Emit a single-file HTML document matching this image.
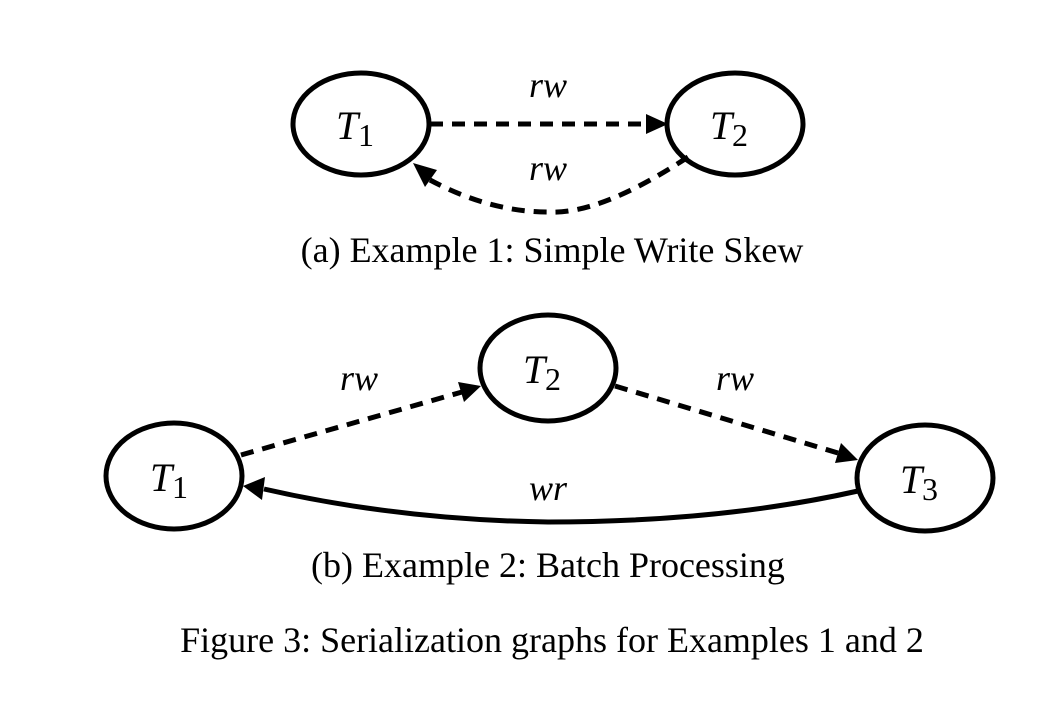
<!DOCTYPE html>
<html><head><style>
html,body{margin:0;padding:0;background:#fff;}
svg{display:block;}
text{font-family:"Liberation Serif",serif;fill:#000;}
</style></head><body>
<svg width="1048" height="708" viewBox="0 0 1048 708">
<g fill="none" stroke="#000" stroke-width="5">
<ellipse cx="361" cy="124" rx="68" ry="51"/>
<ellipse cx="735" cy="124" rx="68" ry="51"/>
<ellipse cx="548" cy="368" rx="68" ry="53"/>
<ellipse cx="174" cy="476" rx="68" ry="53"/>
<ellipse cx="925" cy="478" rx="68" ry="53"/>
</g>
<g fill="none" stroke="#000" stroke-width="5" stroke-dasharray="13,9">
<path d="M430,124 L646,124"/>
<path d="M688,157 Q600,215 548,212 Q490,212 430,180"/>
<path d="M241,455 L462,392"/>
<path d="M615,386 L838,453"/>
</g>
<path d="M858,491 Q720,522 548,522 Q400,520 264,489" fill="none" stroke="#000" stroke-width="5"/>
<g fill="#000">
<path d="M646,114 L668,124 L646,134 Z"/>
<path d="M413,163 L437,170 L425,187 Z"/>
<path d="M481,386 L464,402 L458,382 Z"/>
<path d="M858,460 L835,463 L841,443 Z"/>
<path d="M243,486 L265,477 L262,500 Z"/>
</g>
<g font-style="italic" font-size="40">
<text x="336" y="139">T</text><text x="358" y="146" font-style="normal" font-size="32">1</text>
<text x="710" y="139">T</text><text x="732" y="146" font-style="normal" font-size="32">2</text>
<text x="523" y="383">T</text><text x="545" y="390" font-style="normal" font-size="32">2</text>
<text x="150" y="491">T</text><text x="172" y="498" font-style="normal" font-size="32">1</text>
<text x="900" y="493">T</text><text x="922" y="500" font-style="normal" font-size="32">3</text>
</g>
<g font-style="italic" font-size="36" text-anchor="middle">
<text x="548" y="97">rw</text>
<text x="548" y="180">rw</text>
<text x="359" y="390">rw</text>
<text x="735" y="390">rw</text>
<text x="548" y="500">wr</text>
</g>
<g font-size="36" text-anchor="middle">
<text x="552" y="262">(a) Example 1: Simple Write Skew</text>
<text x="548" y="577">(b) Example 2: Batch Processing</text>
<text x="552" y="652">Figure 3: Serialization graphs for Examples 1 and 2</text>
</g>
</svg>
</body></html>
